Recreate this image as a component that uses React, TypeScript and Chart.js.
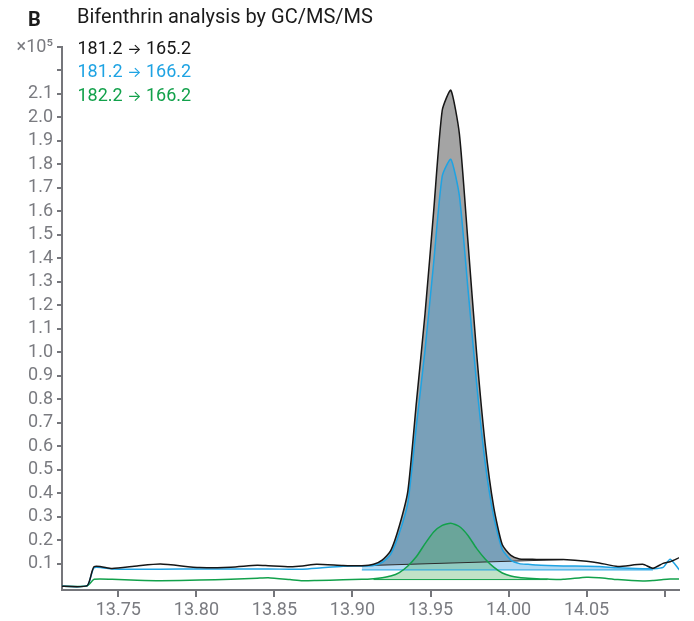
import React, { useEffect, useRef } from 'react';
import { Chart, registerables } from 'chart.js';

Chart.register(...registerables);

// Retention time (min) shared by all three MRM transitions
const retentionTimes = [
  13.71, 13.73, 13.7345, 13.746, 13.762, 13.777, 13.802, 13.822, 13.839, 13.846,
  13.86, 13.868, 13.877, 13.894, 13.906, 13.9135, 13.919, 13.9245, 13.93, 13.9355,
  13.941, 13.9465, 13.952, 13.9575, 13.963, 13.9685, 13.974, 13.9795, 13.985, 13.9905,
  13.996, 14.0015, 14.007, 14.0125, 14.018, 14.025, 14.035, 14.05, 14.058, 14.07,
  14.086, 14.0925, 14.099, 14.1035, 14.1095,
];

// Abundance (x10^5 counts)
const quantifier1812to1652 = [
  0.005, 0.006, 0.087, 0.079, 0.09, 0.098, 0.083, 0.085, 0.093, 0.091,
  0.087, 0.09, 0.097, 0.092, 0.091, 0.097, 0.115, 0.155, 0.26, 0.41,
  0.79, 1.165, 1.6, 2.03, 2.116, 1.93, 1.47, 1.0, 0.61, 0.34,
  0.18, 0.135, 0.12, 0.119, 0.118, 0.118, 0.117, 0.11, 0.103, 0.088,
  0.097, 0.08, 0.101, 0.108, 0.126,
];
const qualifier1812to1662 = [
  0.005, 0.006, 0.083, 0.077, 0.076, 0.076, 0.077, 0.077, 0.077, 0.077,
  0.076, 0.076, 0.08, 0.089, 0.09, 0.092, 0.105, 0.14, 0.23, 0.36,
  0.69, 1.01, 1.38, 1.75, 1.822, 1.666, 1.27, 0.87, 0.53, 0.3,
  0.16, 0.115, 0.1, 0.097, 0.094, 0.092, 0.09, 0.089, 0.088, 0.082,
  0.078, 0.078, 0.084, 0.119, 0.073,
];
const qualifier1822to1662 = [
  0.004, 0.005, 0.033, 0.033, 0.029, 0.027, 0.03, 0.033, 0.038, 0.04,
  0.032, 0.027, 0.028, 0.031, 0.033, 0.036, 0.04, 0.047, 0.062, 0.09,
  0.13, 0.185, 0.235, 0.263, 0.272, 0.258, 0.22, 0.165, 0.12, 0.085,
  0.06, 0.047, 0.041, 0.038, 0.036, 0.034, 0.033, 0.042, 0.04, 0.032,
  0.026, 0.028, 0.032, 0.034, 0.035,
];

const precursorIons = ['181.2', '181.2', '182.2'];
const productIons = ['165.2', '166.2', '166.2'];
const seriesLabels = precursorIons.map((p, i) => `${p} \u2192 ${productIons[i]}`);
const seriesColors = ['#161616', '#1ea3e3', '#12a14b'];

// Integration windows [start, end] and baseline levels at those ends
const quantWindow = [13.906, 14.035];
const quantBaseline = [0.091, 0.117];
const qual1Window = [13.906, 14.0925];
const qual1Baseline = [0.073, 0.073];
const qual2Window = [13.9135, 14.025];
const qual2Baseline = [0.032, 0.032];

const yTickValues = [
  0.1, 0.2, 0.3, 0.4, 0.5, 0.6, 0.7, 0.8, 0.9, 1.0, 1.1, 1.2,
  1.3, 1.4, 1.5, 1.6, 1.7, 1.8, 1.9, 2.0, 2.1, 2.2, 2.3,
];
const xTickValues = [13.75, 13.8, 13.85, 13.9, 13.95, 14.0, 14.05, 14.1];

const AXIS_GRAY = '#75767b';
const LABEL_GRAY = '#7a7b80';
const TENSION = 0.2;

const toPoints = (values: number[]) =>
  retentionTimes.map((t, i) => ({ x: t, y: values[i] }));

const inWindow = (values: number[], win: number[]) =>
  toPoints(values).filter((p) => p.x >= win[0] - 1e-9 && p.x <= win[1] + 1e-9);

const baselinePoints = (win: number[], level: number[]) => [
  { x: win[0], y: level[0] },
  { x: win[1], y: level[1] },
];

export default function App() {
  const canvasRef = useRef<HTMLCanvasElement | null>(null);

  useEffect(() => {
    const canvas = canvasRef.current;
    if (!canvas) return;

    const traceStyle = (color: string, order: number) => ({
      borderColor: color,
      borderWidth: 1.5,
      pointRadius: 0,
      tension: TENSION,
      fill: false,
      order,
    });

    const chart = new Chart(canvas, {
      type: 'line',
      data: {
        datasets: [
          { label: seriesLabels[0], data: toPoints(quantifier1812to1652), ...traceStyle(seriesColors[0], 0) },
          { label: seriesLabels[1], data: toPoints(qualifier1812to1662), ...traceStyle(seriesColors[1], 1) },
          { label: seriesLabels[2], data: toPoints(qualifier1822to1662), ...traceStyle(seriesColors[2], 2) },
          // integration baselines
          {
            label: 'quant baseline', data: baselinePoints(quantWindow, quantBaseline),
            borderColor: '#2b2b2b', borderWidth: 1, pointRadius: 0, fill: false, order: 3,
          },
          {
            label: 'qual1 baseline', data: baselinePoints(qual1Window, qual1Baseline),
            borderColor: seriesColors[1], borderWidth: 1, pointRadius: 0, fill: false, order: 4,
          },
          {
            label: 'qual2 baseline', data: baselinePoints(qual2Window, qual2Baseline),
            borderColor: seriesColors[2], borderWidth: 1, pointRadius: 0, fill: false, order: 5,
          },
          // integrated peak areas
          {
            label: 'qual2 area', data: inWindow(qualifier1822to1662, qual2Window),
            borderWidth: 0, pointRadius: 0, tension: TENSION,
            backgroundColor: 'rgba(80,175,100,0.36)', fill: 5, order: 6,
          },
          {
            label: 'qual1 area', data: inWindow(qualifier1812to1662, qual1Window),
            borderWidth: 0, pointRadius: 0, tension: TENSION,
            backgroundColor: 'rgba(44,152,221,0.36)', fill: 4, order: 7,
          },
          {
            label: 'quant area', data: inWindow(quantifier1812to1652, quantWindow),
            borderWidth: 0, pointRadius: 0, tension: TENSION,
            backgroundColor: '#a4a4a4', fill: 3, order: 8,
          },
        ],
      },
      options: {
        responsive: false,
        animation: false,
        events: [],
        layout: { padding: { top: 47, right: 15, left: 0, bottom: 0 } },
        plugins: {
          legend: { display: false },
          tooltip: { enabled: false },
          title: { display: false },
        },
        scales: {
          x: {
            type: 'linear',
            min: 13.7139,
            max: 14.1092,
            afterBuildTicks: (scale: any) => {
              scale.ticks = xTickValues.map((v) => ({ value: v }));
            },
            afterFit: (scale: any) => {
              scale.height = 31;
            },
            ticks: {
              autoSkip: false,
              maxRotation: 0,
              padding: 3,
              color: LABEL_GRAY,
              font: { family: 'Roboto', size: 18 },
              callback: (v: any) => (Number(v) > 14.09 ? '' : Number(v).toFixed(2)),
            },
            grid: {
              drawOnChartArea: false,
              drawTicks: true,
              tickLength: 7,
              color: AXIS_GRAY,
              lineWidth: 2,
            },
            border: { display: true, color: AXIS_GRAY, width: 2 },
          },
          y: {
            type: 'linear',
            min: -0.0124,
            max: 2.3,
            afterBuildTicks: (scale: any) => {
              scale.ticks = yTickValues.map((v) => ({ value: v }));
            },
            afterFit: (scale: any) => {
              scale.width = 62;
            },
            ticks: {
              autoSkip: false,
              padding: 4,
              color: LABEL_GRAY,
              font: { family: 'Roboto', size: 18 },
              callback: (v: any) => {
                const n = Number(v);
                if (n > 2.25) return '\u00d710\u2075';
                if (n > 2.15) return '';
                return n.toFixed(1);
              },
            },
            grid: {
              drawOnChartArea: false,
              drawTicks: true,
              tickLength: 5,
              color: AXIS_GRAY,
              lineWidth: 2,
            },
            border: { display: true, color: AXIS_GRAY, width: 2 },
          },
        },
      },
    } as any);

    return () => chart.destroy();
  }, []);

  return (
    <div
      style={{
        position: 'fixed',
        left: 0,
        top: 0,
        width: 694,
        height: 621,
        background: '#ffffff',
        fontFamily: 'Roboto, sans-serif',
      }}
    >
      <canvas
        ref={canvasRef}
        width={694}
        height={621}
        style={{ position: 'absolute', left: 0, top: 0, width: 694, height: 621 }}
      />
      <div
        style={{
          position: 'absolute', left: 28, top: 7, fontSize: 20, lineHeight: '24px',
          fontWeight: 700, color: '#1b1b1b',
        }}
      >
        B
      </div>
      <div
        style={{
          position: 'absolute', left: 77, top: 4, fontSize: 20, lineHeight: '24px',
          color: '#1b1b1b', whiteSpace: 'nowrap',
        }}
      >
        Bifenthrin analysis by GC/MS/MS
      </div>
      <div style={{ position: 'absolute', left: 77.5, top: 36.5 }}>
        {precursorIons.map((p, i) => (
          <div
            key={seriesLabels[i]}
            style={{
              fontSize: 18, lineHeight: '22.5px', color: seriesColors[i], whiteSpace: 'nowrap',
            }}
          >
            {p}{' '}
            <span style={{ fontFamily: 'Inter', fontSize: 15 }}>{'\u2192'}</span>
            {' '}{productIons[i]}
          </div>
        ))}
      </div>
    </div>
  );
}
